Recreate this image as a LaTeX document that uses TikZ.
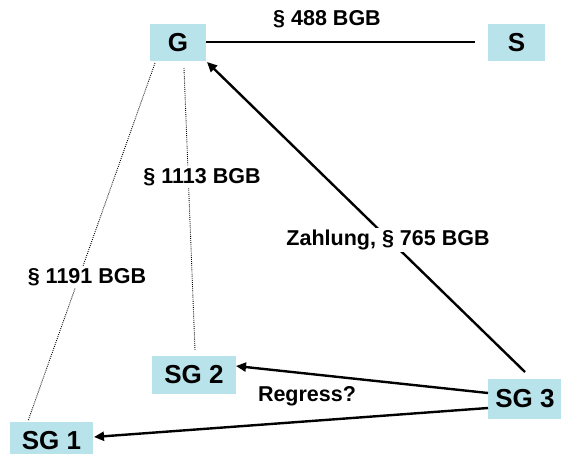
\documentclass[tikz,border=0pt]{standalone}
\usepackage{fontspec}
\setmainfont{Liberation Sans}
\usetikzlibrary{arrows.meta}
\definecolor{boxblue}{RGB}{185,227,235}
\begin{document}
\begin{tikzpicture}[x=1pt,y=-1pt,
  party/.style={fill=boxblue,inner sep=0pt,font=\fontsize{26}{29}\selectfont\bfseries},
  lbl/.style={fill=white,inner sep=2pt,font=\fontsize{21.5}{24}\selectfont\bfseries},
  thickline/.style={line width=2.4pt},
  thinline/.style={line width=0.9pt,dash pattern=on 0.9pt off 1.2pt},
  arr/.style={thickline,-{Triangle[width=9pt,length=10pt]}}]
\useasboundingbox (0,0) rectangle (561,454);
\node[party,minimum width=56pt,minimum height=37pt] (G) at (178,42.5) {G};
\node[party,minimum width=57pt,minimum height=37pt] (S) at (516.5,42.5) {S};
\node[party,minimum width=84pt,minimum height=38pt] (SG2) at (194,375) {SG 2};
\node[party,minimum width=74pt,minimum height=40pt] (SG3) at (525,399) {SG 3};
\node[party,minimum width=83pt,minimum height=38pt] (SG1) at (51.5,441) {SG 1};
% endpoints
\coordinate (g1) at (155,63);
\coordinate (s1) at (28,421);
\coordinate (g2) at (184,68);
\coordinate (s2) at (195,350);
\coordinate (gs) at (206,42);
\coordinate (sg) at (475,42);
\coordinate (t3) at (525,372);
\coordinate (tg) at (207,62);
\coordinate (a2) at (488,393);
\coordinate (b2) at (236,366);
\coordinate (a1) at (488,408);
\coordinate (b1) at (94,437);
\draw[thickline] (gs) -- (sg);
\draw[thinline] (g1) -- (s1);
\draw[thinline] (g2) -- (s2);
\draw[arr] (t3) -- (tg);
\draw[arr] (a2) -- (b2);
\draw[arr] (a1) -- (b1);
\node[lbl] (l488) at (327,19) {§ 488 BGB};
\node[lbl] (l1113) at (202,177) {§ 1113 BGB};
\node[lbl] (l1191) at (87,277) {§ 1191 BGB};
\node[lbl] (l765) at (388,240) {Zahlung, § 765 BGB};
\node[lbl,fill=none] (lreg) at (307,396) {Regress?};
\end{tikzpicture}
\end{document}
